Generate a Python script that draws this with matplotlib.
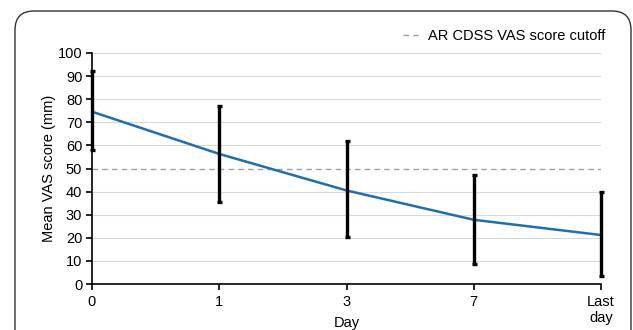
import matplotlib.pyplot as plt
from matplotlib.patches import FancyBboxPatch

plt.rcParams['font.family'] = ['Liberation Sans', 'DejaVu Sans']

days = ["0", "1", "3", "7", "Last\nday"]
mean_vas = [74.6, 56.3, 40.5, 27.8, 21.2]
err_top = [92.2, 77.2, 61.8, 47.2, 39.7]
err_bottom = [58.0, 35.6, 20.2, 8.6, 3.3]
cutoff = 50

x = list(range(len(days)))
lower = [m - b for m, b in zip(mean_vas, err_bottom)]
upper = [t - m for t, m in zip(err_top, mean_vas)]

fig = plt.figure(figsize=(6.33, 3.3), dpi=100)

# rounded frame (cut off at right/bottom like the original)
frame = FancyBboxPatch((15 / 633, -0.2), 616 / 633, (330 - 11) / 330 + 0.2,
                       boxstyle="round,pad=0,rounding_size=0.03",
                       transform=fig.transFigure, fill=False,
                       edgecolor='#333333', linewidth=1.0, mutation_aspect=633 / 330)
fig.patches.append(frame)

ax = fig.add_axes([92 / 633, 46 / 330, 509 / 633, 231 / 330])

for yv in range(10, 101, 10):
    if yv != cutoff:
        ax.axhline(yv, color='#d9d9d9', linewidth=0.8, zorder=0)
ax.axhline(cutoff, color='#a0a0a0', linewidth=1.0, linestyle=(0, (4, 3)),
           zorder=1, label='AR CDSS VAS score cutoff')

ax.plot(x, mean_vas, color='#1f6fad', linewidth=1.8, zorder=2)
eb = ax.errorbar(x, mean_vas, yerr=[lower, upper], fmt='none', ecolor='black',
                 elinewidth=2.4, capsize=1.8, capthick=2.4, zorder=3)
for art in eb.lines[1] + eb.lines[2]:
    art.set_clip_on(False)

ax.set_xlim(0, 4)
ax.set_ylim(0, 100)
ax.set_xticks(x)
ax.set_xticklabels(days)
ax.set_yticks(range(0, 101, 10))
ax.tick_params(axis='both', labelsize=10.5, colors='black', length=4, width=1.2)
ax.tick_params(axis='x', pad=4)
ax.tick_params(axis='y', pad=3)
for s in ['top', 'right']:
    ax.spines[s].set_visible(False)
for s in ['left', 'bottom']:
    ax.spines[s].set_linewidth(1.2)
ax.set_xlabel("Day", fontsize=10.5, va='top')
ax.xaxis.set_label_coords(0.5, -0.137)
ax.set_ylabel("Mean VAS score (mm)", fontsize=10.5, labelpad=1.5)

ax.legend(loc='lower right', bbox_to_anchor=(1.022, 1.012), frameon=False,
          fontsize=10.5, handlelength=1.2, handletextpad=0.5, borderpad=0)

fig.savefig("out.png", dpi=100)
